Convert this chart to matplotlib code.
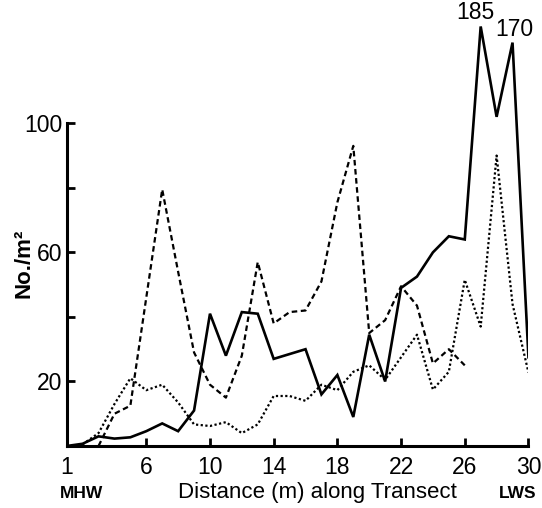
import matplotlib
matplotlib.use("Agg")
import matplotlib.pyplot as plt

# distance along transect (m)
dist_solid = list(range(1, 31))
dist_dashed = list(range(3, 27))
dist_dotted = list(range(2, 31))

# numbers per m2 as drawn (the two top peaks are drawn off-scale, labelled 185 and 170)
solid = [0, 0.7, 3, 2.3, 2.7, 4.6, 7, 4.6, 11, 41,
         28, 41.5, 41, 27, 28.5, 30, 16, 22, 9, 34.5,
         20, 49, 52.5, 60, 65, 64, 130, 102, 125, 27.5]
dashed = [0, 10, 12.5, 46, 79.5, 54, 29, 19, 15, 28,
          57, 38, 41.5, 42, 51, 75.5, 93, 35, 39, 49.5,
          43.5, 25.6, 30, 25]
dotted = [0.5, 4, 13, 21, 17.3, 19, 13.5, 6.7, 6.2, 7.4,
          4, 6.7, 15.5, 15.5, 14, 19, 17.3, 23, 25, 20.5,
          27.5, 34.5, 17.5, 23, 51.5, 37, 90, 44, 22.8]

peak_labels = {27: "185", 29: "170"}
x_ticks = [1, 6, 10, 14, 18, 22, 26, 30]
y_ticks = [20, 40, 60, 80, 100]
y_ticklabels = ["20", "", "60", "", "100"]

plt.rcParams["font.family"] = ["Liberation Sans", "DejaVu Sans"]

fig = plt.figure(figsize=(5.42, 5.08), dpi=100)
ax = fig.add_axes([0.123, 0.122, 0.852, 0.8386])

ax.plot(dist_solid, solid, color="black", lw=1.9, solid_joinstyle="miter")
ax.plot(dist_dashed, dashed, color="black", lw=1.6, linestyle=(0, (2.5, 1.6)))
ax.plot(dist_dotted, dotted, color="black", lw=1.6, linestyle=(0, (1, 1.1)))

for d, lab in peak_labels.items():
    ax.annotate(lab, (d, solid[dist_solid.index(d)]), xytext=(-5 if d == 27 else 2, 2),
                textcoords="offset pixels", ha="center", va="bottom",
                fontsize=16.5, annotation_clip=False)

ax.set_xlim(1, 30)
ax.set_ylim(0, 132)
for s in ["top", "right"]:
    ax.spines[s].set_visible(False)
ax.spines["left"].set_bounds(0, 100)
ax.spines["bottom"].set_bounds(1, 30)
ax.spines["left"].set_linewidth(2.2)
ax.spines["bottom"].set_linewidth(2.2)

ax.set_xticks(x_ticks)
ax.set_xticklabels([str(t) for t in x_ticks])
ax.set_yticks(y_ticks)
ax.set_yticklabels(y_ticklabels)
ax.tick_params(axis="both", direction="in", length=6, width=2, labelsize=16.5)
ax.tick_params(axis="x", pad=7)
ax.tick_params(axis="y", pad=3)

fig.text(0.044, 0.482, "No./m²", rotation=90, ha="center", va="center",
         fontsize=16, fontweight="bold")
fig.text(0.585, 0.031, "Distance (m) along Transect", ha="center", va="center", fontsize=16)
fig.text(0.151, 0.029, "MHW", ha="center", va="center", fontsize=12.5, fontweight="bold")
fig.text(0.955, 0.029, "LWS", ha="center", va="center", fontsize=12.5, fontweight="bold")

fig.savefig("out.png", dpi=100)
